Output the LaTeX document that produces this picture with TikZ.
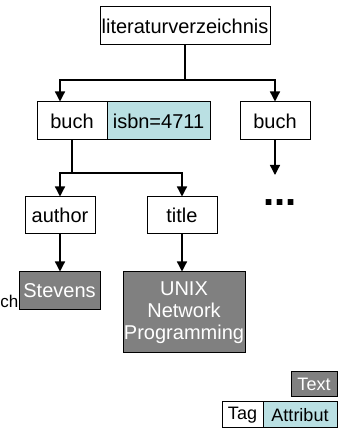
\documentclass[tikz,border=0pt]{standalone}
\usepackage{fontspec}
\setmainfont{Liberation Sans}
\usetikzlibrary{arrows.meta}

\definecolor{attrcyan}{RGB}{186,224,227}
\definecolor{textgray}{RGB}{128,128,128}

\tikzset{
	tagbox/.style = {draw, line width = 1pt, fill = white, inner sep = 0pt, font = \fontsize{20}{23}\selectfont},
	attrbox/.style = {tagbox, fill = attrcyan},
	textbox/.style = {tagbox, fill = textgray, text = white, align = center, font = \fontsize{20}{22}\selectfont},
	legendfont/.style = {font = \fontsize{18}{20}\selectfont},
	link/.style = {line width = 1.3pt},
	arr/.style = {link, -{Triangle[width = 10pt, length = 10pt]}}
}

\begin{document}
\begin{tikzpicture}[x = 1pt, y = 1pt]
	\useasboundingbox (0, 0) rectangle (338, 429);
	
	\node[tagbox, minimum width = 170pt, minimum height = 38pt] (lit) at (185, 403) {literaturverzeichnis};
	
	\node[tagbox, minimum width = 70pt, minimum height = 38pt] (buch1) at (72, 308) {buch};
	\node[attrbox, minimum width = 103pt, minimum height = 38pt] (isbn) at (158.5, 308) {isbn=4711};
	\node[tagbox, minimum width = 70pt, minimum height = 38pt] (buch2) at (275, 308) {buch};
	
	\node[tagbox, minimum width = 70pt, minimum height = 37pt] (author) at (60, 213.5) {author};
	\node[tagbox, minimum width = 70pt, minimum height = 37pt] (title) at (182, 213.5) {title};
	
	\node[textbox, minimum width = 81pt, minimum height = 38pt] (stevens) at (59.5, 138) {Stevens};
	\node[textbox, minimum width = 122pt, minimum height = 81pt] (unix) at (184, 116.5) {UNIX\\Network\\Programming};
	\node[anchor = base east, inner sep = 0pt, font = \fontsize{17}{20}\selectfont] (ch) at (stevens.west |- 0, 121) {ch};
	
	\node[font = \fontsize{40}{40}\bfseries] (dots) at (280, 226) {...};
	
	% connectors
	\coordinate (j1) at (lit.south |- 0, 349);
	\draw[link] (lit.south) -- (j1);
	\draw[arr] (j1) -| ([xshift = -12pt] buch1.north);
	\draw[arr] (j1) -| (buch2.north);
	
	\coordinate (j2) at (buch1.south |- 0, 256);
	\draw[link] (buch1.south) -- (j2);
	\draw[arr] (j2) -| (author.north);
	\draw[arr] (j2) -| (title.north);
	
	\coordinate (more) at (buch2.south |- 0, 254);
	\draw[arr] (buch2.south) -- (more);
	
	\draw[arr] (author.south) -- (stevens.north -| author.south);
	\draw[arr] (title.south) -- (unix.north -| title.south);
	
	% legend
	\node[textbox, legendfont, minimum width = 46pt, minimum height = 25pt] (ltext) at (314, 44.5) {Text};
	\node[tagbox, legendfont, minimum width = 41pt, minimum height = 26pt] (ltag) at (242.5, 14) {Tag};
	\node[attrbox, legendfont, minimum width = 74pt, minimum height = 26pt] (lattr) at (300, 14) {Attribut};
\end{tikzpicture}
\end{document}
